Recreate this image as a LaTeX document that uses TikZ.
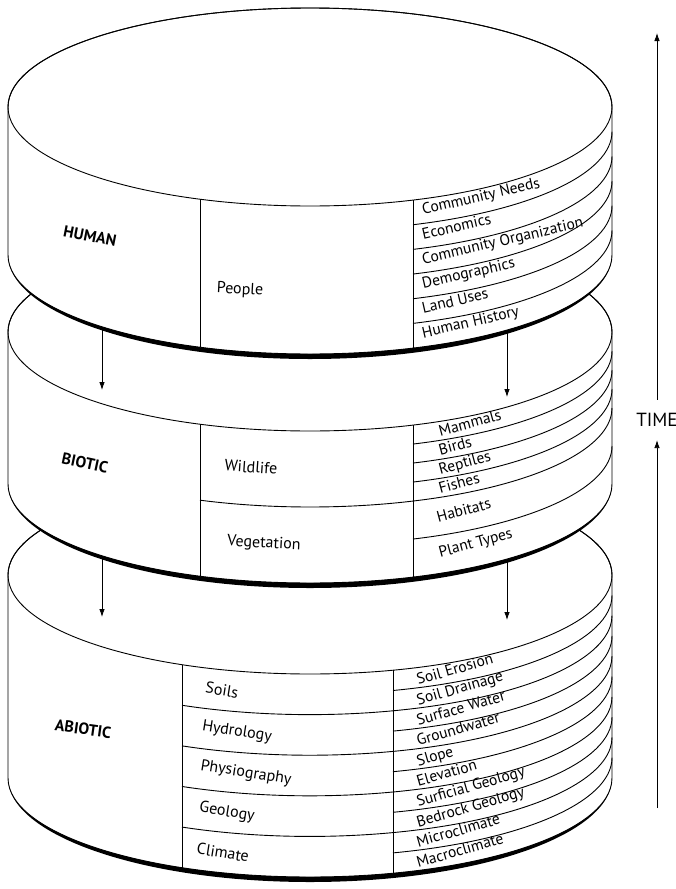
\documentclass[tikz,border=0pt]{standalone}
\usepackage{fontspec}
\setmainfont{PT Sans}
\usetikzlibrary{calc,arrows.meta}

% front half of an ellipse of the drum, from x=#2 to x=#3, centre at y=#4
\newcommand{\frontarc}[4][]{%
  \pgfmathsetmacro{\arcA}{acos((#2-\cx)/\rx)}
  \pgfmathsetmacro{\arcB}{acos((#3-\cx)/\rx)}
  \draw[#1] (#2,{#4+\ry*sin(\arcA)}) arc[start angle=\arcA,end angle=\arcB,x radius=\rx,y radius=\ry];
}
% one drum: top centre y=#1, height #2
\newcommand{\drawlayer}[2]{%
  \filldraw[fill=white] (\cx-\rx,#1) -- (\cx-\rx,#1+#2) arc[start angle=180,end angle=0,x radius=\rx,y radius=\ry]
    -- (\cx+\rx,#1) arc[start angle=0,end angle=-180,x radius=\rx,y radius=\ry] -- cycle;
  \draw (\cx,#1) ellipse[x radius=\rx,y radius=\ry];
  \fill (\cx-\rx,#1+#2) arc[start angle=180,end angle=0,x radius=\rx,y radius=\ry]
    arc[start angle=0,end angle=180,x radius=\rx,y radius=\ry+5] -- cycle;
}

\tikzset{
  layerlab/.style={font=\bfseries\fontsize{16}{18}\selectfont},
  grouplab/.style={font=\fontsize{16}{18}\selectfont},
  itemlab/.style={font=\fontsize{15.5}{17}\selectfont,anchor=base west,inner sep=0pt},
  flowarrow/.style={-{Latex[length=8pt,width=5.5pt]},line width=0.8pt},
}

\begin{document}
\begin{tikzpicture}[x=1pt,y=-1pt,line width=0.9pt,
  declare function={front(\x)=99*sqrt(1-((\x-310)/302)^2);}]
    \pgfmathsetmacro{\cx}{310};
    \pgfmathsetmacro{\rx}{302};
    \pgfmathsetmacro{\ry}{99};
    \useasboundingbox (0,0) rectangle (676,889);

    % abiotic
    \drawlayer{575}{203}
    \draw (182,{575+front(182)}) -- (182,{778+front(182)});
    \draw (393,{575+front(393)}) -- (393,{778+front(393)});
    \frontarc{182}{612}{575+40.6}
    \frontarc{182}{612}{575+81.2}
    \frontarc{182}{612}{575+121.8}
    \frontarc{182}{612}{575+162.4}
    \frontarc{393}{612}{575+20.3}
    \frontarc{393}{612}{575+60.9}
    \frontarc{393}{612}{575+101.5}
    \frontarc{393}{612}{575+142.1}
    \frontarc{393}{612}{575+182.7}
    \node[layerlab,rotate=-8] (abiotic) at (83,729) {ABIOTIC};
    \node[grouplab,rotate=-9] (soils) at (222,{575+front(222)+20.3}) {Soils};
    \node[grouplab,rotate=-9] (hydrology) at (237,{575+front(237)+60.9}) {Hydrology};
    \node[grouplab,rotate=-9] (physiography) at (246,{575+front(246)+101.5}) {Physiography};
    \node[grouplab,rotate=-9] (geology) at (227,{575+front(227)+142.1}) {Geology};
    \node[grouplab,rotate=-9] (climate) at (223,{575+front(223)+182.7}) {Climate};
    \node[itemlab,rotate=16] (erosion) at (418,{575+front(418)+17.6}) {Soil Erosion};
    \node[itemlab,rotate=16] (drainage) at (418,{575+front(418)+37.9}) {Soil Drainage};
    \node[itemlab,rotate=16] (surface) at (418,{575+front(418)+58.2}) {Surface Water};
    \node[itemlab,rotate=16] (ground) at (418,{575+front(418)+78.5}) {Groundwater};
    \node[itemlab,rotate=16] (slope) at (418,{575+front(418)+98.8}) {Slope};
    \node[itemlab,rotate=16] (elevation) at (418,{575+front(418)+119.1}) {Elevation};
    \node[itemlab,rotate=16] (surficial) at (418,{575+front(418)+139.4}) {Surficial Geology};
    \node[itemlab,rotate=16] (bedrock) at (418,{575+front(418)+159.7}) {Bedrock Geology};
    \node[itemlab,rotate=16] (micro) at (418,{575+front(418)+180}) {Microclimate};
    \node[itemlab,rotate=16] (macro) at (418,{575+front(418)+200.3}) {Macroclimate};

    % biotic
    \drawlayer{332}{152}
    \draw (200,{332+front(200)}) -- (200,{484+front(200)});
    \draw (413,{332+front(413)}) -- (413,{484+front(413)});
    \frontarc{200}{612}{332+76}
    \frontarc{413}{612}{332+19}
    \frontarc{413}{612}{332+38}
    \frontarc{413}{612}{332+57}
    \frontarc{413}{612}{332+114}
    \node[layerlab,rotate=-12] (biotic) at (85,463) {BIOTIC};
    \node[grouplab,rotate=-4] (wildlife) at (251,{332+front(251)+38}) {Wildlife};
    \node[grouplab,rotate=-3] (vegetation) at (264,{332+front(264)+114}) {Vegetation};
    \node[itemlab,rotate=15] (mammals) at (440,{332+front(440)+15}) {Mammals};
    \node[itemlab,rotate=15] (birds) at (440,{332+front(440)+34}) {Birds};
    \node[itemlab,rotate=15] (reptiles) at (440,{332+front(440)+53}) {Reptiles};
    \node[itemlab,rotate=15] (fishes) at (440,{332+front(440)+72}) {Fishes};
    \node[itemlab,rotate=15] (habitats) at (438,{332+front(438)+101}) {Habitats};
    \node[itemlab,rotate=15] (plants) at (440,{332+front(440)+136}) {Plant Types};

    % human
    \drawlayer{107}{148}
    \draw (200,{107+front(200)}) -- (200,{255+front(200)});
    \draw (413,{107+front(413)}) -- (413,{255+front(413)});
    \frontarc{413}{612}{107+24.667}
    \frontarc{413}{612}{107+49.333}
    \frontarc{413}{612}{107+74}
    \frontarc{413}{612}{107+98.667}
    \frontarc{413}{612}{107+123.333}
    \node[layerlab,rotate=-11] (human) at (90,236) {HUMAN};
    \node[grouplab,rotate=-3] (people) at (240,290) {People};
    \node[itemlab,rotate=13] (needs) at (423,{107+front(423)+16}) {Community Needs};
    \node[itemlab,rotate=13] (economics) at (423,{107+front(423)+40.667}) {Economics};
    \node[itemlab,rotate=13] (organization) at (423,{107+front(423)+65.333}) {Community Organization};
    \node[itemlab,rotate=13] (demographics) at (423,{107+front(423)+90}) {Demographics};
    \node[itemlab,rotate=13] (landuses) at (423,{107+front(423)+114.667}) {Land Uses};
    \node[itemlab,rotate=13] (history) at (423,{107+front(423)+139.333}) {Human History};

    % downward arrows
    \coordinate (hbl) at (102,{255+front(102)});
    \coordinate (btl) at (102,390);
    \coordinate (hbr) at (507,{255+front(507)});
    \coordinate (btr) at (507,397);
    \coordinate (bbl) at (102,{484+front(102)});
    \coordinate (atl) at (102,617);
    \coordinate (bbr) at (507,{484+front(507)});
    \coordinate (atr) at (507,620);
    \draw[flowarrow] (hbl) -- (btl);
    \draw[flowarrow] (hbr) -- (btr);
    \draw[flowarrow] (bbl) -- (atl);
    \draw[flowarrow] (bbr) -- (atr);

    % time
    \node[font=\fontsize{19}{22}\selectfont,inner xsep=0pt,inner ysep=13pt] (time) at (657,420) {TIME};
    \coordinate (timetop) at (657,33);
    \coordinate (timebot) at (657,808);
    \draw[flowarrow] (time.north) -- (timetop);
    \draw[flowarrow] (timebot) -- (time.south);
\end{tikzpicture}
\end{document}
